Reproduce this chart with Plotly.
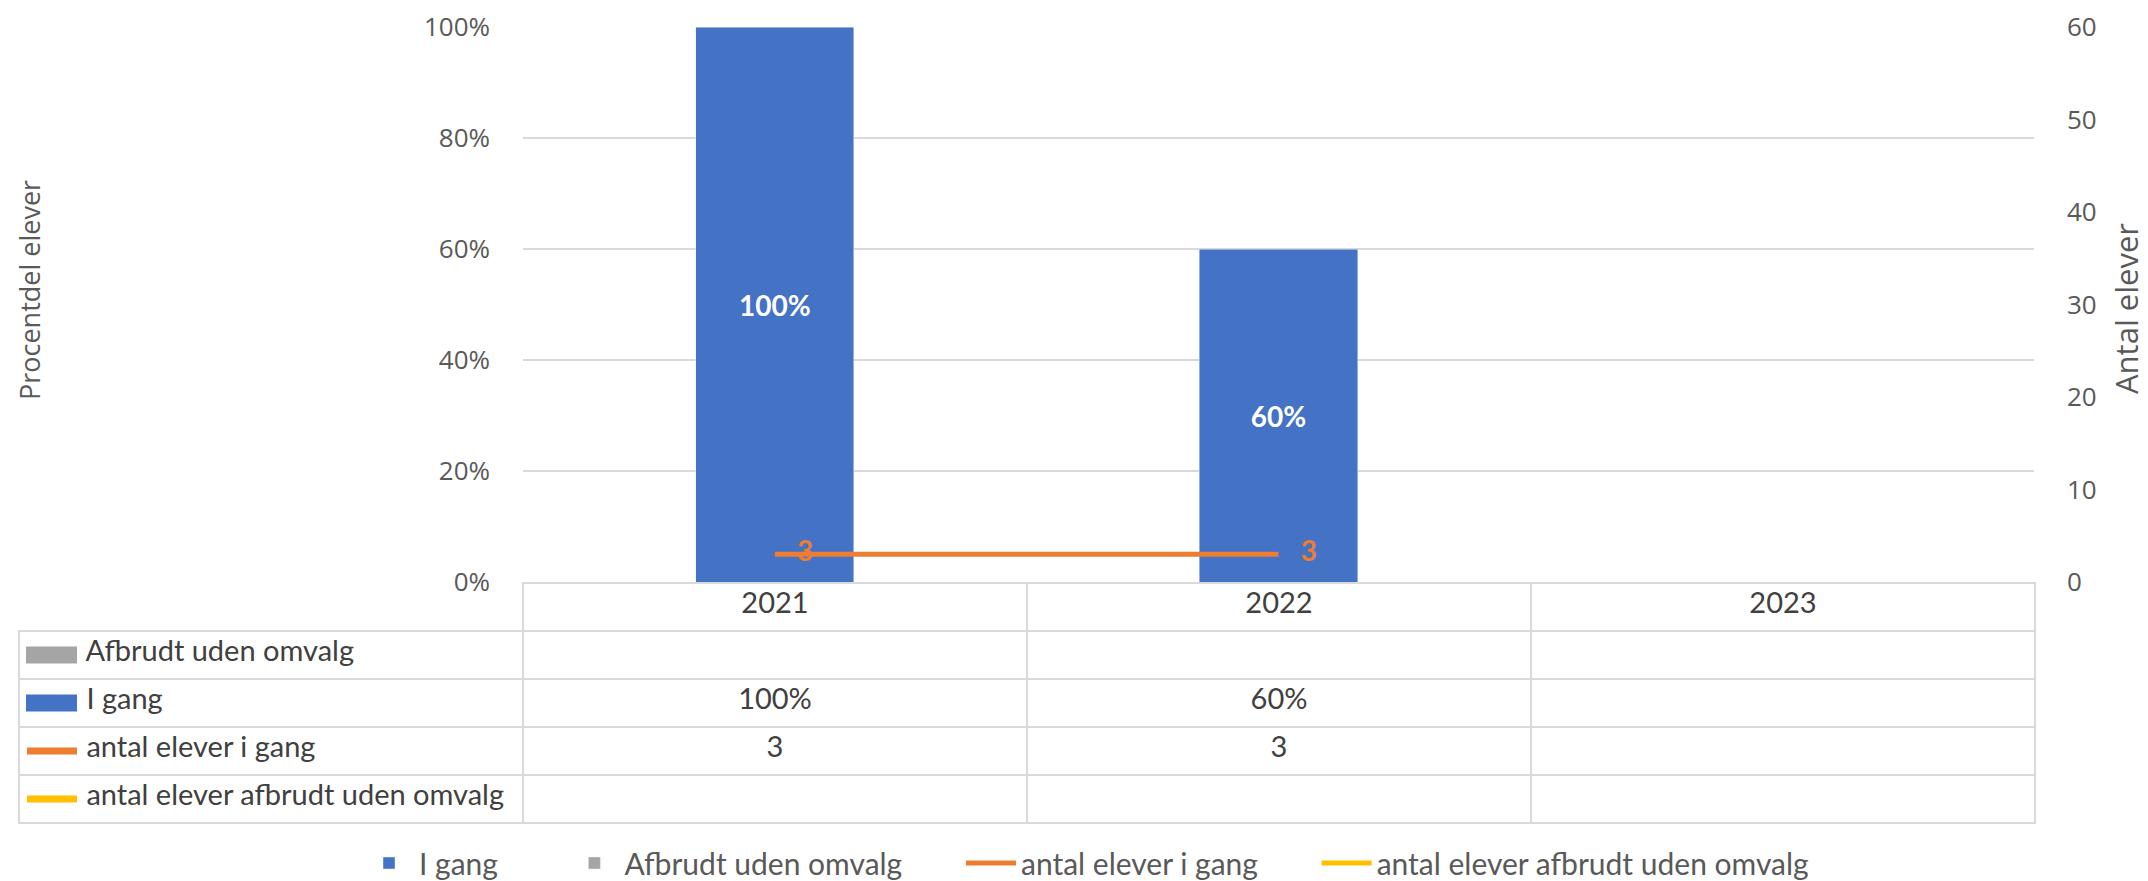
import plotly.graph_objects as go

# ---------------- data ----------------
categories = ["2021", "2022", "2023"]
i_gang = [1.0, 0.6, None]                 # Procentdel elever (I gang)
afbrudt_uden_omvalg = [None, None, None]  # Procentdel elever (Afbrudt uden omvalg)
antal_i_gang = [3, 3, None]               # Antal elever i gang
antal_afbrudt = [None, None, None]        # Antal elever afbrudt uden omvalg

series_names = ["I gang", "Afbrudt uden omvalg", "antal elever i gang",
                "antal elever afbrudt uden omvalg"]

# ---------------- style ----------------
OFF = 8                      # default page (body) margin of the written html
W, H = 2148 - OFF, 881 - OFF  # figure size so the page exactly fills the window
BLUE, GRAY, ORANGE, YELLOW = "#4472C4", "#A5A5A5", "#ED7D31", "#FFC000"
GRID = "#D9D9D9"
TXT = "#595959"
TBL_TXT = "#404040"
AX_FONT = "Open Sans"
CAL_FONT = "Lato"
NB = "\u00a0"

# table geometry (window pixels)
TBL_LEFT, TBL_RIGHT = 19, 2035
TBL_TOP, ROW_H = 583, 48
N_ROWS = 4
TBL_BOTTOM = TBL_TOP + ROW_H * (N_ROWS + 1)


def py(p):
    return 1 - (p - OFF) / H


def px_(x):
    return (x - OFF) / W


LEG_PADS = [NB * 8, NB * 7, NB * 7, ""]
fig = go.Figure()

fig.add_trace(go.Bar(
    x=categories, y=i_gang, name=series_names[0] + LEG_PADS[0], marker_color=BLUE,
    texttemplate="%{y:.0%}", textposition="inside", insidetextanchor="middle",
    textfont=dict(family=CAL_FONT, size=28, color="white", weight="bold"),
    width=0.314, yaxis="y"))
fig.add_trace(go.Bar(
    x=categories, y=afbrudt_uden_omvalg, name=series_names[1] + LEG_PADS[1],
    marker_color=GRAY, width=0.314, yaxis="y"))
fig.add_trace(go.Scatter(
    x=categories, y=antal_i_gang, name=series_names[2] + LEG_PADS[2],
    mode="lines+markers+text",
    line=dict(color=ORANGE, width=5), marker=dict(size=34, color="rgba(0,0,0,0)"),
    text=[("" if v is None else str(v)) for v in antal_i_gang],
    textposition="middle right",
    textfont=dict(family=CAL_FONT, size=28, color=ORANGE, weight="bold"),
    yaxis="y2"))
fig.add_trace(go.Scatter(
    x=categories, y=antal_afbrudt, name=series_names[3] + LEG_PADS[3], mode="lines",
    line=dict(color=YELLOW, width=5), yaxis="y2"))

# ---------------- data table ----------------
def fmt_pct(v):
    return "" if v is None else f"{v:.0%}"


def fmt_num(v):
    return "" if v is None else str(v)


table_rows = [  # (series index, key kind, colour) in table order
    (1, "box", GRAY), (0, "box", BLUE), (2, "line", ORANGE), (3, "line", YELLOW)]
row_labels = [series_names[i] for i, _, _ in table_rows]
columns = [row_labels]
for i in range(len(categories)):
    columns.append([fmt_pct(afbrudt_uden_omvalg[i]), fmt_pct(i_gang[i]),
                    fmt_num(antal_i_gang[i]), fmt_num(antal_afbrudt[i])])

fig.add_trace(go.Table(
    domain=dict(x=[px_(TBL_LEFT), px_(TBL_RIGHT)], y=[py(TBL_BOTTOM + 4), py(TBL_TOP)]),
    columnwidth=[1, 1, 1, 1],
    header=dict(values=[""] + categories, height=ROW_H,
                fill_color=["rgba(0,0,0,0)", "white", "white", "white"],
                line=dict(color=["rgba(0,0,0,0)", GRID, GRID, GRID], width=2),
                align="center",
                font=dict(family=CAL_FONT, size=29, color=TBL_TXT)),
    cells=dict(values=columns, height=ROW_H, fill_color="white",
               prefix=[NB * 4, "", "", ""],
               line=dict(color=GRID, width=2),
               align=["left", "center", "center", "center"],
               font=dict(family=CAL_FONT, size=29, color=TBL_TXT)),
))

# legend keys drawn inside the table's first column
shapes = []
for r, (_, kind, col) in enumerate(table_rows):
    yc = TBL_TOP + ROW_H * (r + 1) + ROW_H / 2
    if kind == "box":
        shapes.append(dict(type="rect", xref="paper", yref="paper",
                           x0=px_(26), x1=px_(77), y0=py(yc + 8.5), y1=py(yc - 8.5),
                           fillcolor=col, line=dict(width=0)))
    else:
        shapes.append(dict(type="line", xref="paper", yref="paper",
                           x0=px_(27), x1=px_(77), y0=py(yc), y1=py(yc),
                           line=dict(color=col, width=7)))

fig.update_layout(
    width=W, height=H,
    margin=dict(l=0, r=0, t=0, b=0, autoexpand=False),
    paper_bgcolor="white", plot_bgcolor="white",
    barmode="stack",
    showlegend=True,
    legend=dict(orientation="h", x=px_(359), xanchor="left", y=py(863),
                yanchor="middle", font=dict(family=CAL_FONT, size=30, color=TXT),
                itemwidth=50, traceorder="normal", bgcolor="rgba(0,0,0,0)"),
    xaxis=dict(domain=[px_(523), px_(2034)], range=[-0.5, 2.5],
               showticklabels=False, showgrid=False, zeroline=False,
               showline=False, type="category", automargin=False),
    yaxis=dict(domain=[py(582), py(27)], range=[0, 1], dtick=0.2,
               tickformat=".0%", showgrid=True, gridcolor=GRID, gridwidth=2,
               zeroline=False, showline=False, ticklabelstandoff=32,
               automargin=False,
               tickfont=dict(family=AX_FONT, size=26, color=TXT)),
    yaxis2=dict(overlaying="y", side="right", range=[0, 60], dtick=10,
                showgrid=False, zeroline=False, showline=False,
                ticklabelstandoff=32, automargin=False,
                tickfont=dict(family=AX_FONT, size=26, color=TXT)),
    shapes=shapes,
    annotations=[
        dict(text="Procentdel elever", x=px_(30), y=py(290), xref="paper",
             yref="paper", textangle=-90, showarrow=False, xanchor="center",
             yanchor="middle", font=dict(family=AX_FONT, size=27, color=TXT)),
        dict(text="Antal elever", x=px_(2126), y=py(309), xref="paper",
             yref="paper", textangle=-90, showarrow=False, xanchor="center",
             yanchor="middle", font=dict(family=AX_FONT, size=31, color=TXT)),
    ],
)

fig.write_html("out.html")
